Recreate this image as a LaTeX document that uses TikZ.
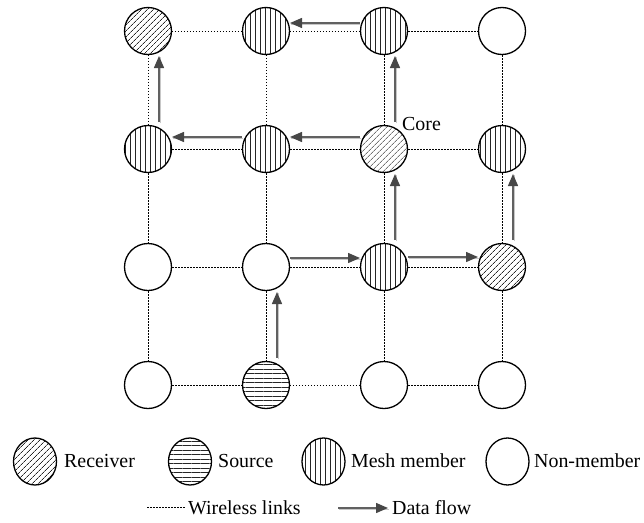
\documentclass[tikz,border=0pt]{standalone}
\usepackage{fontspec}
\setmainfont{Liberation Serif}
\usetikzlibrary{patterns.meta,shapes.geometric,arrows.meta}

\begin{document}
\begin{tikzpicture}[x=1pt,y=-1pt,
  peer/.style={circle,draw=black,line width=1.3pt,minimum size=47pt,inner sep=0pt},
  keyshape/.style={ellipse,draw=black,line width=1.3pt,minimum width=43pt,minimum height=47pt,inner sep=0pt},
  recv/.style={pattern={Lines[angle=45,distance=4pt,line width=0.65pt]},pattern color=black!85},
  srcp/.style={pattern={Lines[angle=0,distance=4.5pt,line width=0.7pt]},pattern color=black!85},
  meshp/.style={pattern={Lines[angle=90,distance=5pt,line width=0.7pt]},pattern color=black!85},
  link/.style={line width=1pt,dash pattern=on 1.5pt off 1.5pt},
  flow/.style={draw=black!62,line width=1.4pt,
    -{Triangle[length=12pt,width=10pt,fill=black!72,color=black!72]},
    preaction={draw=black!22,line width=1.4pt,-,transform canvas={xshift=1.3pt,yshift=-1.3pt}}},
  lbl/.style={anchor=base west,inner sep=0pt,font=\fontsize{19.9}{24}\selectfont}
]
\useasboundingbox (0,0) rectangle (644,522);

% grid of nodes: n<row><column>
\node[peer,recv]  (n11) at (148,31)  {};
\node[peer,meshp] (n12) at (266,31)  {};
\node[peer,meshp] (n13) at (384,31)  {};
\node[peer]       (n14) at (502,31)  {};
\node[peer,meshp] (n21) at (148,149) {};
\node[peer,meshp] (n22) at (266,149) {};
\node[peer,recv]  (n23) at (384,149) {};
\node[peer,meshp] (n24) at (502,149) {};
\node[peer]       (n31) at (148,267) {};
\node[peer]       (n32) at (266,267) {};
\node[peer,meshp] (n33) at (384,267) {};
\node[peer,recv]  (n34) at (502,267) {};
\node[peer]       (n41) at (148,385) {};
\node[peer,srcp]  (n42) at (266,385) {};
\node[peer]       (n43) at (384,385) {};
\node[peer]       (n44) at (502,385) {};

% wireless links
\foreach \r in {1,2,3,4}{
  \draw[link] (n\r1) -- (n\r2);
  \draw[link] (n\r2) -- (n\r3);
  \draw[link] (n\r3) -- (n\r4);
}
\foreach \c in {1,2,3,4}{
  \draw[link] (n1\c) -- (n2\c);
  \draw[link] (n2\c) -- (n3\c);
  \draw[link] (n3\c) -- (n4\c);
}

\node[lbl] (core) at (402,130) {Core};

% data flow
\draw[flow] ([xshift=11pt,yshift=27pt]n42.center) -- ([xshift=11pt,yshift=-25pt]n32.center);
\draw[flow] ([xshift=24pt,yshift=9pt]n32.center) -- ([xshift=-24pt,yshift=9pt]n33.center);
\draw[flow] ([xshift=24pt,yshift=10pt]n33.center) -- ([xshift=-24pt,yshift=10pt]n34.center);
\draw[flow] ([xshift=11pt,yshift=27pt]n33.center) -- ([xshift=11pt,yshift=-25pt]n23.center);
\draw[flow] ([xshift=11pt,yshift=27pt]n34.center) -- ([xshift=11pt,yshift=-25pt]n24.center);
\draw[flow] ([xshift=11pt,yshift=27pt]n23.center) -- ([xshift=11pt,yshift=-25pt]n13.center);
\draw[flow] ([xshift=-24pt,yshift=8pt]n13.center) -- ([xshift=24pt,yshift=8pt]n12.center);
\draw[flow] ([xshift=-24pt,yshift=12pt]n23.center) -- ([xshift=24pt,yshift=12pt]n22.center);
\draw[flow] ([xshift=-24pt,yshift=12pt]n22.center) -- ([xshift=24pt,yshift=12pt]n21.center);
\draw[flow] ([xshift=11pt,yshift=27pt]n21.center) -- ([xshift=11pt,yshift=-25pt]n11.center);

% legend
\node[keyshape,recv]  (kr) at (35,461.5)  {};
\node[lbl] (tr) at (64,467) {Receiver};
\node[keyshape,srcp]  (ks) at (190,461.5) {};
\node[lbl] (ts) at (218,467) {Source};
\node[keyshape,meshp] (km) at (323.5,461.5) {};
\node[lbl] (tm) at (351,467) {Mesh member};
\node[keyshape]       (kn) at (507.5,461.5) {};
\node[lbl] (tn) at (534,467) {Non-member};

\coordinate (wa) at (147,507);
\coordinate (wb) at (185,507);
\draw[link] (wa) -- (wb);
\node[lbl] (tw) at (188,514.5) {Wireless links};
\coordinate (fa) at (338,508);
\coordinate (fb) at (388,508);
\draw[flow] (fa) -- (fb);
\node[lbl] (tf) at (392,514.5) {Data flow};
\end{tikzpicture}
\end{document}
